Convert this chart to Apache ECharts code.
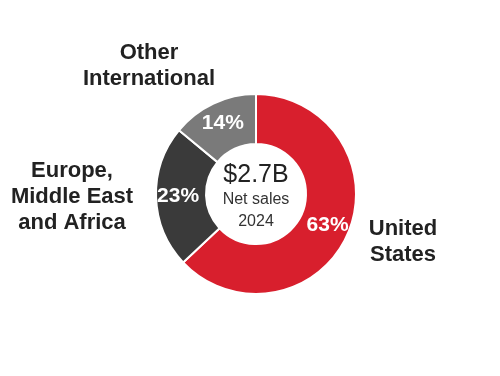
<!DOCTYPE html>
<html><head><meta charset="utf-8">
<script src="https://cdn.jsdelivr.net/npm/echarts@6/dist/echarts.min.js"></script>
<style>html,body{margin:0;padding:0;background:#fff}#c{width:500px;height:376px}</style>
</head><body><div id="c"></div>
<script>
const categories = ['United States', 'Europe, Middle East and Africa', 'Other International'];
const shares = [63, 23, 14];
const sliceColors = ['#D81F2D', '#3A3A3A', '#7A7A7A'];
const categoryLines = [['United', 'States'], ['Europe,', 'Middle East', 'and Africa'], ['Other', 'International']];
const centerLines = ['$2.7B', 'Net sales', '2024'];

const chart = echarts.init(document.getElementById('c'), null, {renderer: 'canvas'});
const FONT = 'Liberation Sans';
const labelPos = [[403, 242], [72, 197], [149, 66]];
const graphics = categoryLines.map((lines, i) => ({
  type: 'text', x: labelPos[i][0], y: labelPos[i][1],
  style: {text: lines.join('\n'), fill: '#222', fontFamily: FONT, fontWeight: 'bold', fontSize: 22,
          align: 'center', verticalAlign: 'middle', lineHeight: 26}
}));
const centerSpec = [[175, 25, '#222'], [200, 16, '#333'], [222, 16, '#333']];
centerLines.forEach((t, i) => graphics.push({type: 'text', x: 256, y: centerSpec[i][0],
  style: {text: t, fill: centerSpec[i][2], fontFamily: FONT, fontSize: centerSpec[i][1], align: 'center', verticalAlign: 'middle'}}));

chart.setOption({
  animation: false,
  backgroundColor: '#fff',
  series: [{
    type: 'pie',
    center: [256, 194],
    radius: [50, 100],
    startAngle: 90,
    clockwise: true,
    avoidLabelOverlap: false,
    itemStyle: {borderColor: '#fff', borderWidth: 2},
    label: {show: true, position: 'inside', formatter: p => p.value + '%',
            color: '#fff', fontFamily: FONT, fontWeight: 'bold', fontSize: 21},
    labelLine: {show: false},
    data: categories.map((c, i) => ({name: c, value: shares[i], itemStyle: {color: sliceColors[i]}}))
  }],
  graphic: graphics
});
</script></body></html>
